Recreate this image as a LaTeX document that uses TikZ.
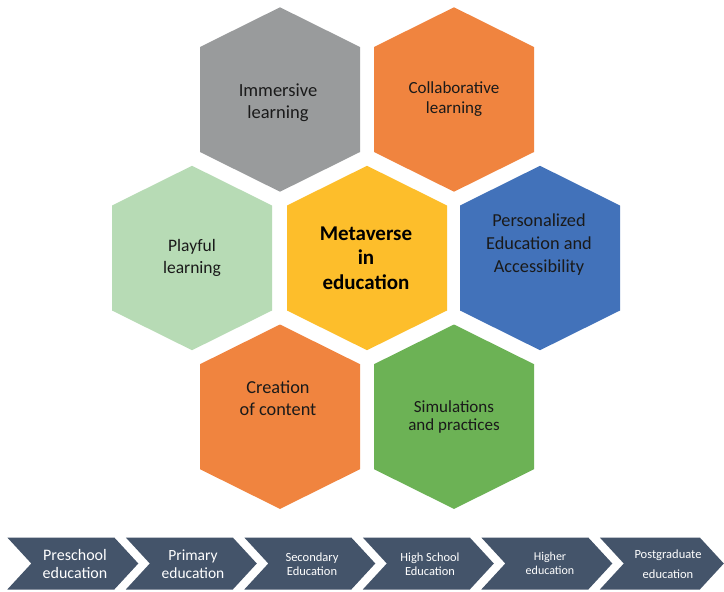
\documentclass[tikz,border=0pt]{standalone}
\usepackage{fontspec}
\setmainfont{Carlito}

\definecolor{hexgray}{HTML}{999B9C}
\definecolor{hexorange}{HTML}{F0843F}
\definecolor{hexmint}{HTML}{B7DBB5}
\definecolor{hexyellow}{HTML}{FDBE2B}
\definecolor{hexblue}{HTML}{4272BA}
\definecolor{hexgreen}{HTML}{6CB255}
\definecolor{stageslate}{HTML}{44546A}
\definecolor{inktext}{HTML}{1A1A1A}

% pointy-top hexagon: centre (#1,#2), fill colour #3
\newcommand\hexcell[3]{%
  \fill[#3] (#1-80,#2-52.5) -- (#1,#2-92.2) -- (#1+80,#2-52.5)
    -- (#1+80,#2+52.5) -- (#1,#2+92.2) -- (#1-80,#2+52.5) -- cycle;}
% chevron stage: left edge #1, straight top length #2
\newcommand\stagearrow[2]{%
  \fill[stageslate] (#1,537.5) -- (#1+#2,537.5) -- (#1+#2+24,563.5)
    -- (#1+#2,589.5) -- (#1,589.5) -- (#1+24,563.5) -- cycle;}

\tikzset{
  hexlabel/.style={align=center, text=inktext, inner sep=0pt},
  stagelabel/.style={align=center, text=white, inner sep=0pt},
}

\begin{document}
\begin{tikzpicture}[x=1pt, y=-1pt]
  \fill[white] (0,0) rectangle (724,592);
  \useasboundingbox (0,0) rectangle (724,592);

  % honeycomb
  \hexcell{280}{99.5}{hexgray}
  \hexcell{454}{99.5}{hexorange}
  \hexcell{192}{258}{hexmint}
  \hexcell{367}{258}{hexyellow}
  \hexcell{540}{258}{hexblue}
  \hexcell{280}{416.7}{hexorange}
  \hexcell{454}{416.7}{hexgreen}

  \node[hexlabel, font=\fontsize{18.5}{22}\selectfont] (immersive) at (278,103) {Immersive\\learning};
  \node[hexlabel, font=\fontsize{17}{20}\selectfont] (collab) at (454,99) {Collaborative\\learning};
  \node[hexlabel, font=\fontsize{17.5}{22}\selectfont] (playful) at (192,257.5) {Playful\\learning};
  \node[hexlabel, font=\fontsize{21}{24.5}\selectfont\bfseries, text=black] (metaverse) at (366,258) {Metaverse\\in\\education};
  \node[hexlabel, font=\fontsize{18.3}{23}\selectfont] (personal) at (539,245) {Personalized\\Education and\\Accessibility};
  \node[hexlabel, font=\fontsize{18.3}{22}\selectfont] (creation) at (278,398) {Creation\\of content};
  \node[hexlabel, font=\fontsize{17}{18.5}\selectfont] (simul) at (454,417) {Simulations\\and practices};

  % education stages
  \stagearrow{7.3}{107}
  \stagearrow{125.8}{107}
  \stagearrow{244.3}{107}
  \stagearrow{362.8}{107}
  \stagearrow{481.3}{107}
  \stagearrow{599.8}{100}

  \node[stagelabel, font=\fontsize{16}{18.5}\selectfont] (preschool) at (75,564) {Preschool\\education};
  \node[stagelabel, font=\fontsize{15.5}{18}\selectfont] (primary) at (193,564) {Primary\\education};
  \node[stagelabel, font=\fontsize{12.5}{14}\selectfont] (secondary) at (312,564) {Secondary\\Education};
  \node[stagelabel, font=\fontsize{12.4}{14}\selectfont] (highschool) at (430,564) {High School\\Education};
  \node[stagelabel, font=\fontsize{12}{14.5}\selectfont] (higher) at (550,563.5) {Higher\\education};
  \node[stagelabel, font=\fontsize{12.5}{20}\selectfont] (postgrad) at (668,564) {Postgraduate\\education};
\end{tikzpicture}
\end{document}
